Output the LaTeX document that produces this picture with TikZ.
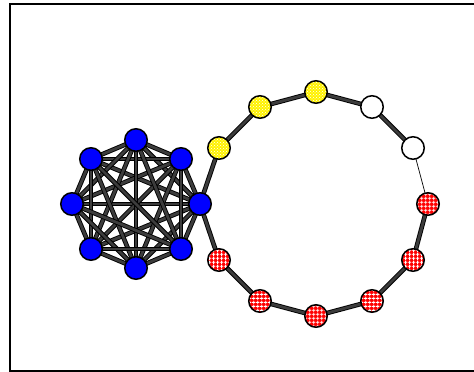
\documentclass[tikz,border=0pt]{standalone}
\usetikzlibrary{patterns,patterns.meta,backgrounds}
\definecolor{edgegray}{RGB}{60,60,60}
\tikzdeclarepattern{
  name=coarsegrid,
  type=uncolored,
  bounding box={(0,0) and (4pt,4pt)},
  tile size={(4pt,4pt)},
  code={
    \pgfsetlinewidth{1pt}
    \pgfpathmoveto{\pgfqpoint{0pt}{2pt}}
    \pgfpathlineto{\pgfqpoint{4pt}{2pt}}
    \pgfpathmoveto{\pgfqpoint{2pt}{0pt}}
    \pgfpathlineto{\pgfqpoint{2pt}{4pt}}
    \pgfusepath{stroke}
  }
}
\begin{document}
\begin{tikzpicture}[x=1pt,y=-1pt,
  vtx/.style={circle,draw=black,line width=1.5pt,minimum size=22.5pt,inner sep=0pt},
  bluev/.style={vtx,fill=blue},
  yelv/.style={vtx,preaction={fill=yellow},pattern=crosshatch dots,pattern color=white},
  whitev/.style={vtx,fill=white},
  redv/.style={vtx,preaction={fill=red},pattern=coarsegrid,pattern color=white},
  thick edge/.style={draw=black,line width=0.9pt,double=edgegray,double distance=2.8pt},
  thin edge/.style={draw=black,line width=0.7pt},
  frame/.style={draw=black,line width=2pt}]
\useasboundingbox (0,0) rectangle (474,372);
\draw[frame] (475,4) -- (10,4) -- (10,371) -- (475,371);
% clique
\node[bluev] (c0) at (200,204) {};
\node[bluev] (c1) at (181,159) {};
\node[bluev] (c2) at (136,140) {};
\node[bluev] (c3) at (91,159) {};
\node[bluev] (c4) at (72,204) {};
\node[bluev] (c5) at (91,249) {};
\node[bluev] (c6) at (136,268) {};
\node[bluev] (c7) at (181,249) {};
% ring
\node[yelv] (r1) at (219,148) {};
\node[yelv] (r2) at (260,107) {};
\node[yelv] (r3) at (316,92) {};
\node[whitev] (r4) at (372,107) {};
\node[whitev] (r5) at (413,148) {};
\node[redv] (r6) at (428,204) {};
\node[redv] (r7) at (413,260) {};
\node[redv] (r8) at (372,301) {};
\node[redv] (r9) at (316,316) {};
\node[redv] (r10) at (260,301) {};
\node[redv] (r11) at (219,260) {};
\begin{scope}[on background layer]
\foreach \i in {0,...,7}{
  \foreach \j in {0,...,7}{
    \ifnum\i<\j
      \draw[thick edge] (c\i.center) -- (c\j.center);
    \fi
  }
}
\draw[thick edge] (c0.center) -- (r1.center) -- (r2.center) -- (r3.center) -- (r4.center) -- (r5.center);
\draw[thin edge] (r5.center) -- (r6.center);
\draw[thick edge] (r6.center) -- (r7.center) -- (r8.center) -- (r9.center) -- (r10.center) -- (r11.center) -- (c0.center);
\end{scope}
\end{tikzpicture}
\end{document}
